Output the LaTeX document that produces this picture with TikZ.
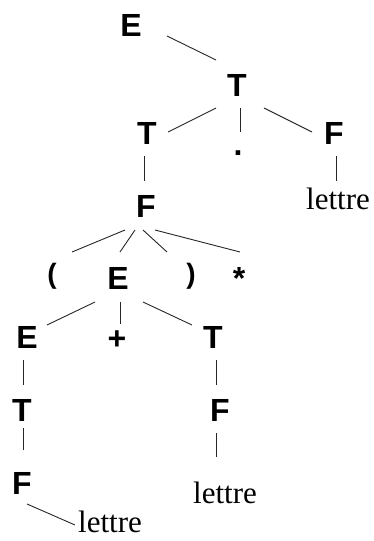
\documentclass[tikz,border=0pt]{standalone}
\usepackage{fontspec}
\setmainfont{Liberation Serif}
\setsansfont{Liberation Sans}
\usetikzlibrary{calc}
\tikzset{
  sym/.style={font=\sffamily\bfseries\fontsize{32}{32}\selectfont, inner sep=0pt, anchor=center},
  psym/.style={font=\sffamily\bfseries\fontsize{28}{28}\selectfont, inner sep=0pt, anchor=center},
  bsym/.style={font=\sffamily\bfseries\fontsize{32}{32}\selectfont, inner sep=0pt, anchor=base},
  word/.style={font=\rmfamily\fontsize{31}{31}\selectfont, inner sep=0pt, anchor=base},
  edge/.style={draw=black!85, line width=0.9pt}
}
\begin{document}
\begin{tikzpicture}[x=1pt,y=-1pt]
\useasboundingbox (0,0) rectangle (373,541);
% nodes
\node[sym] (E0) at (131,25) {E};
\node[sym] (T1) at (237,85) {T};
\node[sym] (T2) at (147,133) {T};
\node[bsym] (dot) at (238,155) {.};
\node[sym] (F1) at (334,133) {F};
\node[word] (l1) at (338,209) {lettre};
\node[sym] (F2) at (146,206) {F};
\node[psym] (lp) at (52,276) {(};
\node[sym] (E2) at (118,278) {E};
\node[psym] (rp) at (191,276) {)};
\node[bsym] (star) at (239,289) {*};
\node[sym] (E3) at (27,337) {E};
\node[bsym] (plus) at (117,349) {+};
\node[sym] (T3) at (213,337) {T};
\node[sym] (T4) at (22,410) {T};
\node[sym] (F3) at (22,483) {F};
\node[sym] (F4) at (220,410) {F};
\node[word] (l2) at (225,503) {lettre};
\node[word] (l3) at (110,532) {lettre};
% connectors
\draw[edge] ($(E0)+(36,11)$) -- ($(T1)+(-21,-25)$);
\draw[edge] ($(T1)+(-21,23)$) -- ($(T2)+(21,-1)$);
\draw[edge] ($(T1)+(3,23)$) -- ($(dot.base)+(2,-23)$);
\draw[edge] ($(T1)+(27,23)$) -- ($(F1)+(-22,-1)$);
\draw[edge] ($(T2)+(-3,23)$) -- ($(F2)+(-2,-25)$);
\draw[edge] ($(F1)+(2,23)$) -- ($(l1.base)+(-2,-28)$);
\draw[edge] ($(F2)+(-21,24)$) -- ($(lp)+(20,-24)$);
\draw[edge] ($(F2)+(-11,24)$) -- ($(E2)+(2,-26)$);
\draw[edge] ($(F2)+(-3,24)$) -- ($(rp)+(-24,-24)$);
\draw[edge] ($(F2)+(9,24)$) -- ($(star.base)+(1,-37)$);
\draw[edge] ($(E2)+(-23,24)$) -- ($(E3)+(20,-12)$);
\draw[edge] ($(E2)+(2,24)$) -- ($(plus.base)+(3,-25)$);
\draw[edge] ($(E2)+(25,24)$) -- ($(T3)+(-21,-12)$);
\draw[edge] ($(E3)+(-4,23)$) -- ($(T4)+(1,-25)$);
\draw[edge] ($(T4)+(1,18)$) -- ($(F3)+(1,-33)$);
\draw[edge] ($(F3)+(5,21)$) -- ($(l3.base)+(-35,-7)$);
\draw[edge] ($(T3)+(3,23)$) -- ($(F4)+(-4,-25)$);
\draw[edge] ($(F4)+(-4,23)$) -- ($(l2.base)+(-9,-46)$);
\end{tikzpicture}
\end{document}
